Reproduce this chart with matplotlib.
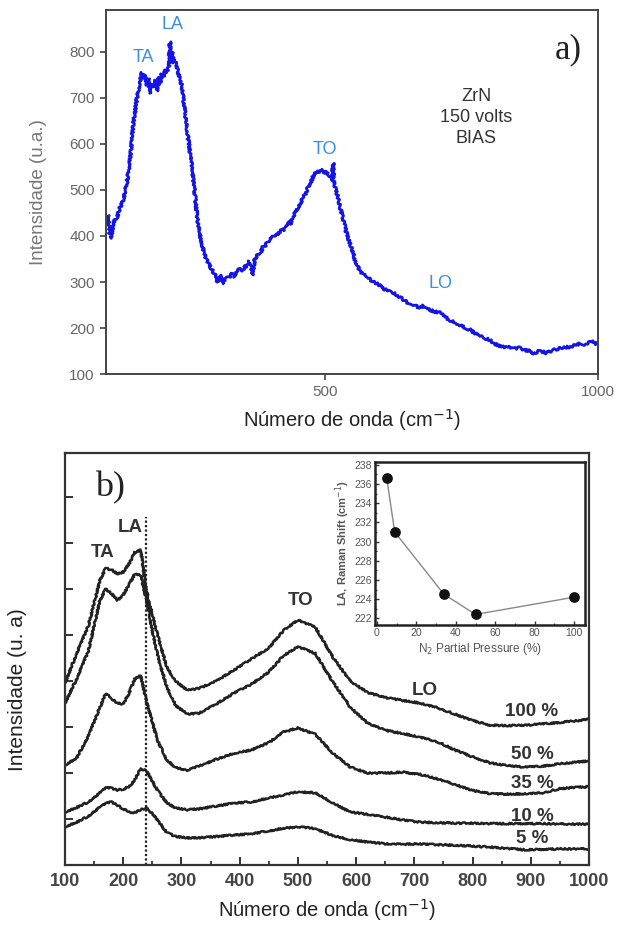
import matplotlib
matplotlib.use("Agg")
import matplotlib.pyplot as plt
from matplotlib.ticker import MultipleLocator

plt.rcParams["font.family"] = ["Liberation Sans", "DejaVu Sans"]

# ---- panel a) : ZrN 150 V bias spectrum (values read off the picture) ----
wn_a = [100, 104, 107, 110, 113, 120, 126, 132, 138, 144, 150, 157, 162, 166, 168, 171, 175, 178,
        180, 183, 186, 190, 193, 196, 199, 202, 205, 209, 212, 215, 217, 219, 221, 224, 226, 229,
        232, 236, 239, 244, 250, 257, 263, 268, 275, 280, 284, 290, 296, 300, 304, 307, 310, 314,
        319, 325, 330, 335, 339, 345, 350, 355, 358, 362, 366, 368, 372, 378, 383, 387, 392, 396,
        400, 405, 410, 416, 420, 425, 430, 434, 437, 441, 446, 452, 457, 461, 465, 470, 475, 480,
        485, 491, 495, 499, 503, 507, 511, 514, 515, 517, 520, 524, 528, 533, 537, 542, 547, 552,
        556, 561, 565, 570, 577, 583, 590, 596, 601, 608, 615, 620, 626, 632, 640, 648, 656, 662,
        668, 675, 680, 687, 693, 700, 711, 720, 729, 740, 750, 758, 766, 775, 784, 793, 802, 810,
        818, 826, 835, 845, 857, 866, 875, 882, 888, 895, 905, 918, 928, 938, 949, 958, 967, 975,
        980, 988, 993, 1000]
int_a = [430, 445, 400, 395, 428, 440, 463, 480, 515, 565, 645, 702, 735, 755, 742, 750, 728, 742,
         710, 730, 724, 738, 715, 745, 728, 752, 746, 760, 756, 770, 822, 780, 800, 776, 783, 770,
         756, 740, 724, 674, 615, 550, 485, 428, 385, 360, 348, 335, 322, 315, 300, 300, 315, 296,
         308, 310, 318, 312, 320, 330, 325, 335, 333, 345, 330, 315, 350, 360, 365, 376, 380, 388,
         392, 398, 400, 405, 415, 410, 420, 432, 425, 440, 450, 462, 475, 485, 492, 507, 518, 533,
         540, 539, 545, 535, 540, 532, 528, 522, 558, 520, 500, 485, 462, 441, 420, 398, 380, 363,
         345, 333, 322, 318, 311, 305, 300, 296, 293, 285, 282, 278, 276, 272, 265, 258, 250, 252,
         247, 244, 248, 246, 239, 236, 233, 224, 217, 210, 205, 200, 196, 188, 182, 178, 174, 166,
         162, 159, 160, 155, 157, 152, 150, 145, 148, 150, 146, 152, 155, 158, 159, 163, 166, 164,
         167, 172, 166, 167]

# ---- panel b) : spectra vs N2 partial pressure (arbitrary offset units) ----
wn_b = [100, 120, 140, 160, 170, 180, 190, 200, 210, 220, 230, 240, 250, 260, 275, 290, 310, 330,
        360, 390, 420, 450, 475, 500, 530, 560, 590, 620, 650, 680, 710, 740, 770, 800, 830, 860,
        890, 920, 950, 980, 1000]
p100 = [3.96, 4.6, 5.2, 6.2, 6.45, 6.42, 6.33, 6.37, 6.55, 6.8, 6.85, 5.95, 5.45, 4.95, 4.3, 4.0,
        3.8, 3.84, 4.0, 4.24, 4.48, 4.72, 5.1, 5.33, 5.17, 4.52, 4.0, 3.75, 3.64, 3.58, 3.52, 3.42,
        3.28, 3.14, 3.04, 3.03, 3.04, 3.07, 3.1, 3.14, 3.17]
p50 = [3.52, 4.05, 4.65, 5.76, 6.0, 5.9, 5.76, 5.87, 6.1, 6.33, 6.3, 5.76, 5.1, 4.5, 3.87, 3.47,
       3.28, 3.3, 3.5, 3.74, 3.93, 4.2, 4.55, 4.75, 4.6, 3.98, 3.43, 3.08, 2.93, 2.86, 2.78, 2.68,
       2.5, 2.35, 2.22, 2.16, 2.13, 2.15, 2.2, 2.24, 2.26]
p35 = [2.17, 2.33, 2.8, 3.43, 3.73, 3.62, 3.52, 3.5, 3.74, 4.05, 4.12, 3.55, 3.1, 2.68, 2.28, 2.12,
       2.06, 2.15, 2.3, 2.43, 2.5, 2.66, 2.89, 2.98, 2.84, 2.43, 2.13, 2.0, 2.0, 2.02, 1.97, 1.87,
       1.75, 1.62, 1.55, 1.54, 1.55, 1.57, 1.66, 1.69, 1.7]
p10 = [1.15, 1.25, 1.37, 1.57, 1.68, 1.67, 1.63, 1.65, 1.7, 1.85, 2.1, 2.05, 1.82, 1.6, 1.35, 1.24,
       1.2, 1.22, 1.28, 1.35, 1.37, 1.46, 1.52, 1.59, 1.57, 1.35, 1.15, 1.1, 1.04, 0.98, 0.93, 0.92,
       0.91, 0.91, 0.9, 0.9, 0.9, 0.9, 0.89, 0.89, 0.89]
p5 = [0.83, 0.93, 1.06, 1.26, 1.34, 1.37, 1.3, 1.22, 1.15, 1.14, 1.2, 1.24, 1.12, 0.96, 0.7, 0.62,
      0.59, 0.59, 0.62, 0.65, 0.68, 0.74, 0.8, 0.83, 0.79, 0.64, 0.55, 0.5, 0.46, 0.45, 0.46, 0.44,
      0.43, 0.41, 0.39, 0.36, 0.33, 0.34, 0.35, 0.35, 0.35]
series_b = [p100, p50, p35, p10, p5]
labels_b = ["100 %", "50 %", "35 %", "10 %", "5 %"]
label_y_b = [3.33, 2.41, 1.78, 1.05, 0.57]
la_line = 239

# ---- inset : LA shift vs N2 pressure ----
n2_pressure = [5, 9, 34, 50, 100]
la_shift = [236.6, 231.0, 224.5, 222.4, 224.2]

fig = plt.figure(figsize=(6.27, 9.27), dpi=100)

# ---------------- panel a ----------------
ax1 = fig.add_axes([0.169, 0.5965, 0.785, 0.3927])
ln, = ax1.plot(wn_a, int_a, color="#1414e6", lw=2.0)
ln.set_sketch_params(scale=1.2, length=2.5, randomness=3)
ax1.set_xlim(100, 1000)
ax1.set_ylim(100, 891)
ax1.set_xticks([500, 1000])
ax1.set_yticks(range(100, 900, 100))
ax1.tick_params(direction="out", length=4, width=1.2, colors="#444", labelsize=11,
                labelcolor="#666", pad=4)
for s in ax1.spines.values():
    s.set_linewidth(1.4)
    s.set_color("#444")
ax1.set_xlabel("Número de onda (cm$^{-1}$)", fontsize=14.5, color="#222", labelpad=6)
ax1.set_ylabel("Intensidade (u.a.)", fontsize=13.5, color="#777", labelpad=16)
lbl_blue = "#3c8ee0"
ax1.text(168, 787, "TA", color=lbl_blue, fontsize=13, ha="center", va="center")
ax1.text(221, 859, "LA", color=lbl_blue, fontsize=13, ha="center", va="center")
ax1.text(500, 587, "TO", color=lbl_blue, fontsize=13, ha="center", va="center")
ax1.text(711, 296, "LO", color=lbl_blue, fontsize=13, ha="center", va="center")
ax1.text(945, 805, "a)", family=["Liberation Serif"], fontsize=25, ha="center", va="center",
         color="#222")
ax1.text(777, 658, "ZrN\n150 volts\nBIAS", fontsize=13, ha="center", va="center",
         color="#333", linespacing=1.3)

# ---------------- panel b ----------------
ax2 = fig.add_axes([0.1037, 0.0669, 0.8357, 0.4444])
for ys in series_b:
    l, = ax2.plot(wn_b, ys, color="#222", lw=1.8)
    l.set_sketch_params(scale=0.8, length=2, randomness=3)
ax2.vlines(la_line, 0, 7.57, colors="#222", linestyles=(0, (1, 1)), lw=1.6)
ax2.set_xlim(100, 1000)
ax2.set_ylim(0, 8.96)
ax2.xaxis.set_major_locator(MultipleLocator(100))
ax2.xaxis.set_minor_locator(MultipleLocator(50))
ax2.set_yticks(range(1, 9))
ax2.set_yticklabels([])
ax2.tick_params(which="major", direction="in", length=6, width=1.4, colors="#333",
                labelsize=13, labelcolor="#444", right=False, top=False, pad=6)
ax2.tick_params(which="minor", direction="in", length=3, width=1.3, colors="#333")
for t in ax2.get_xticklabels():
    t.set_fontweight("bold")
for s in ax2.spines.values():
    s.set_linewidth(1.6)
    s.set_color("#333")
ax2.set_xlabel("Número de onda (cm$^{-1}$)", fontsize=14.5, color="#222", labelpad=5)
ax2.set_ylabel("Intensidade (u. a)", fontsize=15, color="#222")
ax2.yaxis.set_label_coords(-0.072, 0.425)
ax2.text(177, 8.2, "b)", family=["Liberation Serif"], fontsize=26, ha="center", va="center",
         color="#222")
for txt, x, y in [("TA", 165, 6.8), ("LA", 212, 7.33), ("TO", 504, 5.76), ("LO", 718, 3.8)]:
    ax2.text(x, y, txt, fontsize=13.5, fontweight="bold", ha="center", va="center", color="#333")
for txt, y in zip(labels_b, label_y_b):
    ax2.text(902, y, txt, fontsize=13.5, fontweight="bold", ha="center", va="center",
             color="#333")

# ---------------- inset ----------------
ax3 = fig.add_axes([0.598, 0.3258, 0.335, 0.1758])
ax3.plot(n2_pressure, la_shift, color="#888", lw=1.0, zorder=1)
ax3.scatter(n2_pressure, la_shift, s=45, color="#111", zorder=2)
ax3.set_xlim(-1, 105.5)
ax3.set_ylim(221.3, 238.3)
ax3.xaxis.set_major_locator(MultipleLocator(20))
ax3.xaxis.set_minor_locator(MultipleLocator(10))
ax3.yaxis.set_major_locator(MultipleLocator(2))
ax3.yaxis.set_minor_locator(MultipleLocator(1))
ax3.tick_params(which="major", direction="in", length=3, width=1.0, labelsize=7.5,
                colors="#333", labelcolor="#555", pad=2)
ax3.tick_params(which="minor", direction="in", length=1.5, width=0.8, colors="#333")
for s in ax3.spines.values():
    s.set_linewidth(1.8)
    s.set_color("#222")
ax3.set_xlabel("N$_2$ Partial Pressure (%)", fontsize=8.5, color="#555", labelpad=2)
ax3.set_ylabel("LA, Raman Shift (cm$^{-1}$)", fontsize=8, color="#555", labelpad=2,
               fontweight="bold")

fig.savefig("out.png", dpi=100)
